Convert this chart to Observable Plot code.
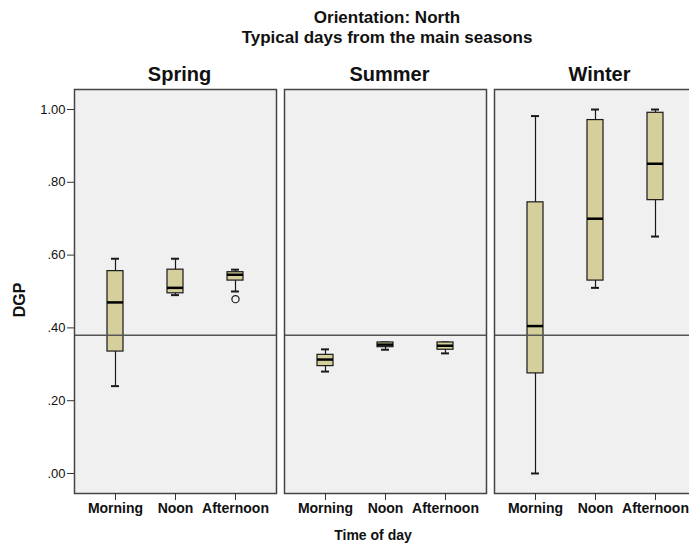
<!DOCTYPE html>
<html>
<head>
<meta charset="utf-8">
<script src="https://cdn.jsdelivr.net/npm/d3@7"></script>
<script src="https://cdn.jsdelivr.net/npm/@observablehq/plot@0.6"></script>
<style>
  body { margin: 0; background: white; font-family: "Liberation Sans", Arial, sans-serif; }
  #wrap { position: relative; width: 689px; height: 544px; overflow: hidden; }
  #title { height: 50px; box-sizing: border-box; padding-top: 8px; padding-left: 85px; text-align: center;
           font-size: 17px; font-weight: bold; line-height: 20px; color: #111; }
  #xlabel { position: absolute; top: 527px; left: 273px; width: 200px; text-align: center;
            font-size: 14px; font-weight: bold; line-height: 16px; color: #111; }
  #ylabel { position: absolute; left: -10px; top: 290px; width: 60px; height: 20px; line-height: 20px;
            text-align: center; font-size: 16px; font-weight: bold; color: #111; transform: rotate(-90deg); }
  svg { display: block; }
</style>
</head>
<body>
<div id="wrap">
  <div id="title">Orientation: North<br>Typical days from the main seasons</div>
  <div id="chart"></div>
  <div id="xlabel">Time of day</div>
  <div id="ylabel">DGP</div>
</div>
<script>
const seasons = ["Spring", "Summer", "Winter"];
const times = ["Morning", "Noon", "Afternoon"];
// order: Spring (Morning, Noon, Afternoon), Summer (...), Winter (...)
const mins    = [0.240, 0.490, 0.500,  0.280, 0.340, 0.330,  0.000, 0.510, 0.651];
const q1s     = [0.335, 0.495, 0.530,  0.295, 0.347, 0.340,  0.275, 0.530, 0.751];
const medians = [0.470, 0.510, 0.546,  0.313, 0.354, 0.351,  0.405, 0.700, 0.851];
const q3s     = [0.556, 0.560, 0.553,  0.326, 0.360, 0.360,  0.745, 0.971, 0.991];
const maxs    = [0.590, 0.590, 0.560,  0.341, 0.360, 0.360,  0.982, 1.000, 1.000];
const outlierSeason = ["Spring"];
const outlierTime = ["Afternoon"];
const outlierValue = [0.479];
const refValue = [0.38];
const yTicks = [0, 0.2, 0.4, 0.6, 0.8, 1.0];
const yTickLabels = [".00", ".20", ".40", ".60", ".80", "1.00"];

const data = [];
seasons.forEach((s, i) => times.forEach((t, j) => {
  const k = i * 3 + j;
  data.push({season: s, time: t, min: mins[k], q1: q1s[k], median: medians[k], q3: q3s[k], max: maxs[k]});
}));
const outliers = outlierValue.map((v, i) => ({season: outlierSeason[i], time: outlierTime[i], value: v}));

const boxFill = "#d5d09b";
const ink = "#1a1a1a";

const chart = Plot.plot({
  width: 689,
  height: 472,
  marginLeft: 74,
  marginRight: -7,
  marginTop: 39,
  marginBottom: 29,
  style: {fontFamily: "'Liberation Sans', Arial, sans-serif", background: "white", color: "#111"},
  fx: {domain: seasons, paddingInner: 0.04, paddingOuter: 0, label: null},
  x: {domain: times, paddingInner: 0.735, paddingOuter: 0.534, label: null},
  y: {domain: [-0.055, 1.055], label: null},
  marks: [
    Plot.frame({fill: "#f0f0f0", stroke: "none"}),
    Plot.ruleX(data, {fx: "season", x: "time", y1: "min", y2: "max", stroke: ink, strokeWidth: 1.2}),
    Plot.tickY(data, {fx: "season", x: "time", y: "min", insetLeft: 4, insetRight: 4, stroke: ink, strokeWidth: 2}),
    Plot.tickY(data, {fx: "season", x: "time", y: "max", insetLeft: 4, insetRight: 4, stroke: ink, strokeWidth: 2}),
    Plot.barY(data, {fx: "season", x: "time", y1: "q1", y2: "q3", fill: boxFill, stroke: ink, strokeWidth: 1.2}),
    Plot.tickY(data, {fx: "season", x: "time", y: "median", stroke: "#000", strokeWidth: 2.5}),
    Plot.dot(outliers, {fx: "season", x: "time", y: "value", r: 3.6, stroke: ink, strokeWidth: 1.2, fill: "#f4f4f4"}),
    Plot.ruleY(refValue, {stroke: "#555", strokeWidth: 1.5}),
    Plot.frame({stroke: "#444", strokeWidth: 1.5}),
    Plot.axisY({ticks: yTicks, tickFormat: (d) => yTickLabels[yTicks.indexOf(d)], tickSize: 7, tickPadding: 2,
                fontSize: 13, stroke: "#333", label: null}),
    Plot.axisX({tickSize: 7, tickPadding: 3, fontSize: 14, fontWeight: "bold", stroke: "#333", label: null}),
    Plot.axisFx({anchor: "top", tickSize: 0, tickPadding: 9, fontSize: 20, fontWeight: "bold", dx: 4, label: null})
  ]
});
document.getElementById("chart").appendChild(chart);
</script>
</body>
</html>
